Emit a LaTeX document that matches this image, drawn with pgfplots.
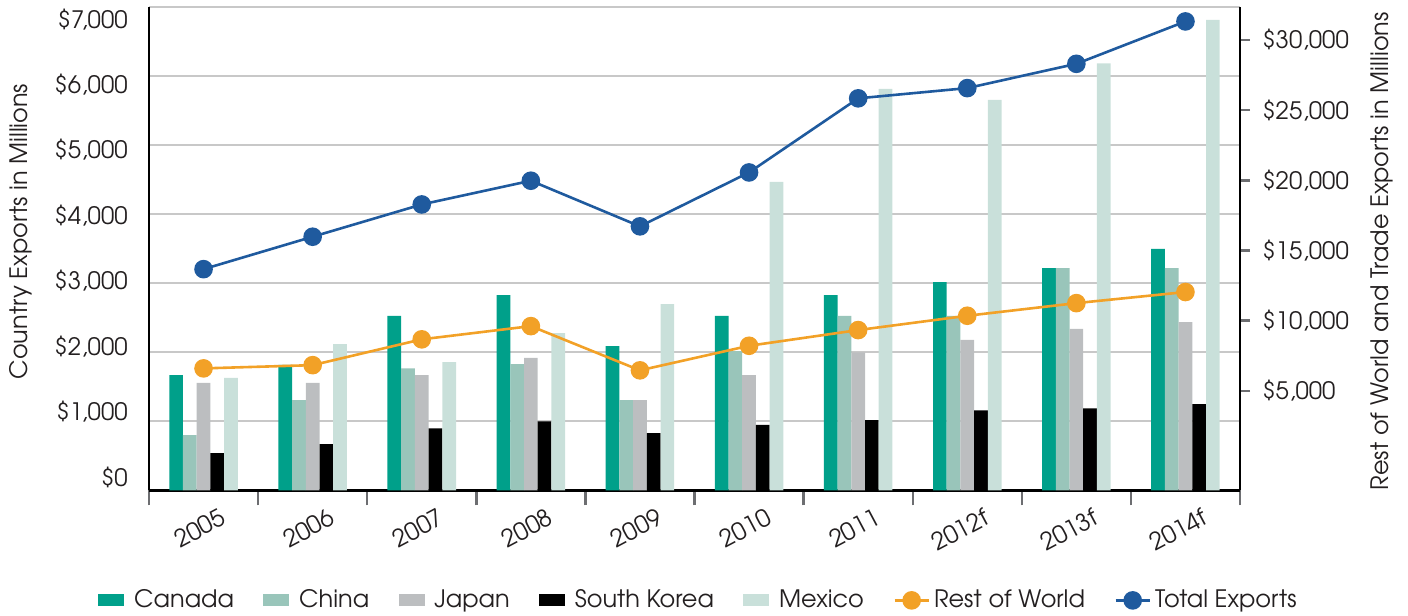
\documentclass[border=0pt]{standalone}
\usepackage{pgfplots}
\pgfplotsset{compat=1.18}
\usepackage{fontspec}
\setmainfont{TeX Gyre Adventor}
\definecolor{cCanada}{HTML}{00A08A}
\definecolor{cChina}{HTML}{99C5BA}
\definecolor{cJapan}{HTML}{BCBEC0}
\definecolor{cKorea}{HTML}{000000}
\definecolor{cMexico}{HTML}{C9E0DA}
\definecolor{cRest}{HTML}{F2A127}
\definecolor{cTotal}{HTML}{1F5A9E}
\definecolor{cGrid}{HTML}{C8C8C8}
\definecolor{cTick}{HTML}{6D6E71}
\definecolor{cText}{HTML}{231F20}
\pgfplotsset{
  base/.style={scale only axis, width=545.5pt, height=241.5pt, xmin=-0.5, xmax=9.5,
    /pgf/number format/assume math mode=true},
}
\begin{document}
\fontsize{12}{14}\selectfont\color{cText}%
\begin{tikzpicture}
% ---------- bars, left scale ----------
\begin{axis}[base, ymin=0, ymax=7000,
  axis x line*=bottom, axis y line*=left,
  axis line style={-, line width=1.2pt, black},
  ytick={1000,2000,...,7000}, yticklabel={\mbox{}},
  ymajorgrids, major grid style={cGrid, line width=1pt},
  xtick={0,...,9},
  xticklabels={2005,2006,2007,2008,2009,2010,2011,2012f,2013f,2014f},
  xticklabel style={anchor=east, inner sep=0pt, xshift=10pt, yshift=-12.5pt, rotate=28},
  major tick length=0pt,
  minor xtick={-0.5,0.5,...,9.5}, minor tick length=7.5pt, tick align=outside,
  minor tick style={cTick, line width=1.2pt},
]
\addplot[ybar, bar width=0.1256, bar shift=-0.2512, fill=cCanada, draw=none] coordinates {
(0,1670)(1,1820)(2,2530)(3,2830)(4,2090)(5,2530)(6,2830)(7,3020)(8,3220)(9,3500)};
\addplot[ybar, bar width=0.1256, bar shift=-0.1256, fill=cChina, draw=none] coordinates {
(0,800)(1,1310)(2,1770)(3,1830)(4,1310)(5,2020)(6,2530)(7,2530)(8,3220)(9,3220)};
\addplot[ybar, bar width=0.1256, bar shift=0, fill=cJapan, draw=none] coordinates {
(0,1560)(1,1560)(2,1670)(3,1920)(4,1310)(5,1670)(6,2000)(7,2180)(8,2340)(9,2440)};
\addplot[ybar, bar width=0.1256, bar shift=0.1256, fill=cKorea, draw=none] coordinates {
(0,540)(1,670)(2,900)(3,1000)(4,830)(5,950)(6,1020)(7,1160)(8,1190)(9,1250)};
\addplot[ybar, bar width=0.1256, bar shift=0.2512, fill=cMexico, draw=none] coordinates {
(0,1630)(1,2120)(2,1860)(3,2280)(4,2700)(5,4470)(6,5820)(7,5660)(8,6190)(9,6820)};
\end{axis}
% ---------- left tick labels ----------
\begin{axis}[base, ymin=-203, ymax=7179,
  hide x axis, xtick=\empty, axis y line*=left, y axis line style={draw=none},
  major tick length=0pt,
  ytick={0,1000,...,7000},
  yticklabels={{\$0},{\$1,000},{\$2,000},{\$3,000},{\$4,000},{\$5,000},{\$6,000},{\$7,000}},
  yticklabel style={anchor=east, xshift=-6.5pt},
  ylabel={Country Exports in Millions},
  every axis y label/.style={at={(axis description cs:-0.1173,0.536)}, anchor=center, rotate=90},
]
\addplot[draw=none] coordinates {(0,0)};
\end{axis}
% ---------- lines, right scale ----------
\begin{axis}[base, ymin=-2094, ymax=32320,
  axis x line=none, xtick=\empty, axis y line*=right,
  axis line style={-, line width=1.2pt, black},
  ytick={5000,10000,...,30000},
  yticklabels={{\$5,000},{\$10,000},{\$15,000},{\$20,000},{\$25,000},{\$30,000}},
  yticklabel style={anchor=west, xshift=2pt},
  major tick length=5pt, tick align=outside, major tick style={cTick, line width=1.2pt},
  ylabel={Rest of World and Trade Exports in Millions},
  every axis y label/.style={at={(axis description cs:1.1302,0.495)}, anchor=center, rotate=90},
  legend style={at={(0.5046,-0.2277)}, anchor=center, draw=none, fill=none,
    /tikz/every even column/.append style={column sep=12.7pt}},
  legend columns=-1, legend cell align=left,
]
\addlegendimage{legend image code/.code={\fill[cCanada] (0pt,-2.75pt) rectangle (12.5pt,2.75pt); \path (15.5pt,0pt);}}
\addlegendentry{Canada}
\addlegendimage{legend image code/.code={\fill[cChina] (0pt,-2.75pt) rectangle (12.5pt,2.75pt); \path (15.5pt,0pt);}}
\addlegendentry{China}
\addlegendimage{legend image code/.code={\fill[cJapan] (0pt,-2.75pt) rectangle (12.5pt,2.75pt); \path (15.5pt,0pt);}}
\addlegendentry{Japan}
\addlegendimage{legend image code/.code={\fill[cKorea] (0pt,-2.75pt) rectangle (12.5pt,2.75pt); \path (15.5pt,0pt);}}
\addlegendentry{South Korea}
\addlegendimage{legend image code/.code={\fill[cMexico] (0pt,-2.75pt) rectangle (12.5pt,2.75pt); \path (15.5pt,0pt);}}
\addlegendentry{Mexico}
\addplot[color=cRest, line width=1.3pt, mark=*, mark size=4pt, mark options={solid, fill=cRest, draw=cRest}] coordinates {
(0,6600)(1,6830)(2,8670)(3,9610)(4,6460)(5,8210)(6,9330)(7,10350)(8,11250)(9,12040)};
\addlegendentry{Rest of World}
\addplot[color=cTotal, line width=1.3pt, mark=*, mark size=4pt, mark options={solid, fill=cTotal, draw=cTotal}] coordinates {
(0,13670)(1,15980)(2,18280)(3,19970)(4,16720)(5,20560)(6,25840)(7,26570)(8,28300)(9,31320)};
\addlegendentry{Total Exports}
\end{axis}
\pgfresetboundingbox
\useasboundingbox (-74.5pt,-62.5pt) rectangle (629.5pt,245.2pt);
\end{tikzpicture}
\end{document}
